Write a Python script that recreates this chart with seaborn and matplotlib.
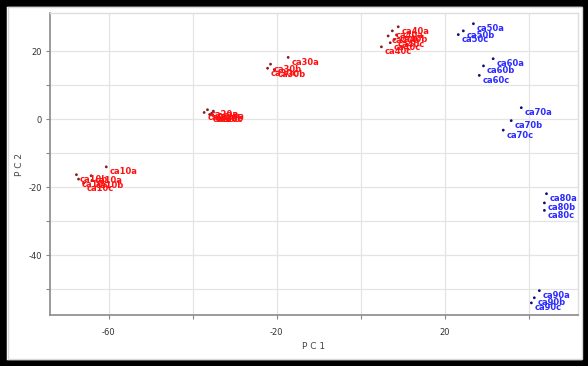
import matplotlib
matplotlib.use('Agg')
import matplotlib.pyplot as plt
import matplotlib.patches as patches
import seaborn as sns
import pandas as pd

# PCA scores (red = ca10..ca40, blue = ca50..ca90)
samples = ['ca10a', 'ca10b', 'ca10c', 'ca10a', 'ca10b', 'ca10c',
           'ca20a', 'ca20b', 'ca20c', 'ca20a', 'ca20b', 'ca20c',
           'ca30a', 'ca30b', 'ca30c', 'ca30b',
           'ca40a', 'ca40a', 'ca40b', 'ca40b', 'ca40c', 'ca40c', 'ca40c',
           'ca50a', 'ca50b', 'ca50c',
           'ca60a', 'ca60b', 'ca60c',
           'ca70a', 'ca70b', 'ca70c',
           'ca80a', 'ca80b', 'ca80c',
           'ca90a', 'ca90b', 'ca90c']
pc1 = [-60.6, -67.7, -67.2, -64.2, -64.0, -66.0,
       -36.5, -37.3, -36.0, -35.1, -35.5, -35.3,
       -17.3, -21.5, -22.2, -20.6,
       8.9, 7.5, 8.5, 6.5, 8.0, 7.0, 4.9,
       26.8, 24.4, 23.2,
       31.5, 29.2, 28.2,
       38.2, 35.8, 33.9,
       44.2, 43.7, 43.7,
       42.5, 41.3, 40.6]
pc2 = [-14.0, -16.3, -17.6, -16.6, -18.0, -18.8,
       2.8, 2.0, 1.4, 2.4, 1.8, 1.3,
       18.2, 16.2, 15.0, 14.6,
       27.2, 26.0, 24.8, 24.5, 23.5, 22.5, 21.3,
       28.1, 26.0, 24.9,
       17.8, 15.7, 12.9,
       3.4, -0.4, -3.2,
       -21.9, -24.6, -26.8,
       -50.4, -52.5, -54.0]
group = ['low' if int(s[2:4]) <= 40 else 'high' for s in samples]

text_colors = {'low': '#ff1010', 'high': '#2a2aff'}
dot_colors = {'low': '#8b1a1a', 'high': '#10106e'}

df = pd.DataFrame({'PC1': pc1, 'PC2': pc2, 'sample': samples, 'group': group})

sns.set_style('whitegrid')
plt.rcParams['font.family'] = ['DejaVu Sans']
plt.rcParams['axes.unicode_minus'] = False

fig = plt.figure(figsize=(5.88, 3.66), dpi=100)
ax = fig.add_axes([0.085, 0.139, 0.898, 0.825])

sns.scatterplot(data=df, x='PC1', y='PC2', hue='group', palette=dot_colors,
                s=4, linewidth=0, legend=False, ax=ax, zorder=3)

for _, r in df.iterrows():
    ax.annotate(r['sample'], (r['PC1'], r['PC2']), xytext=(2.5, -3.6),
                textcoords='offset points', ha='left', va='center',
                fontsize=6, fontweight='bold', color=text_colors[r['group']],
                clip_on=True, annotation_clip=False, zorder=4)

ax.set_xlim(-74, 51.7)
ax.set_ylim(-57.6, 31.2)
ax.set_xticks([-60, -20, 20])
ax.set_xticks([-40, 0, 40], minor=True)
ax.set_yticks([-40, -20, 0, 20])
ax.set_yticks([-50, -30, -10, 10], minor=True)
ax.grid(True, which='both', color='#e4e4e4', linewidth=0.9)
ax.tick_params(which='both', direction='out', length=3, width=0.8,
               color='#888888', labelsize=6, labelcolor='#333333',
               bottom=True, left=True, pad=3)
ax.tick_params(axis='x', which='major', pad=6)

for side in ['left', 'bottom']:
    ax.spines[side].set_color('#8a8a8a')
    ax.spines[side].set_linewidth(1.2)
for side in ['top', 'right']:
    ax.spines[side].set_color('#dddddd')
    ax.spines[side].set_linewidth(1.0)

ax.set_xlabel('P C 1', fontsize=6.5, color='#444444', labelpad=4)
ax.set_ylabel('P C 2', fontsize=6.5, color='#444444', labelpad=3)

# black frame round the picture, light grey line just inside it
fig.add_artist(patches.Rectangle((0, 0), 1, 1, transform=fig.transFigure,
                                 fill=False, edgecolor='black', linewidth=9))
fig.add_artist(patches.Rectangle((8 / 588, 7 / 366), 1 - 14 / 588, 1 - 14 / 366,
                                 transform=fig.transFigure, fill=False,
                                 edgecolor='#d8d8d8', linewidth=1))

fig.savefig('out.png', dpi=100)
